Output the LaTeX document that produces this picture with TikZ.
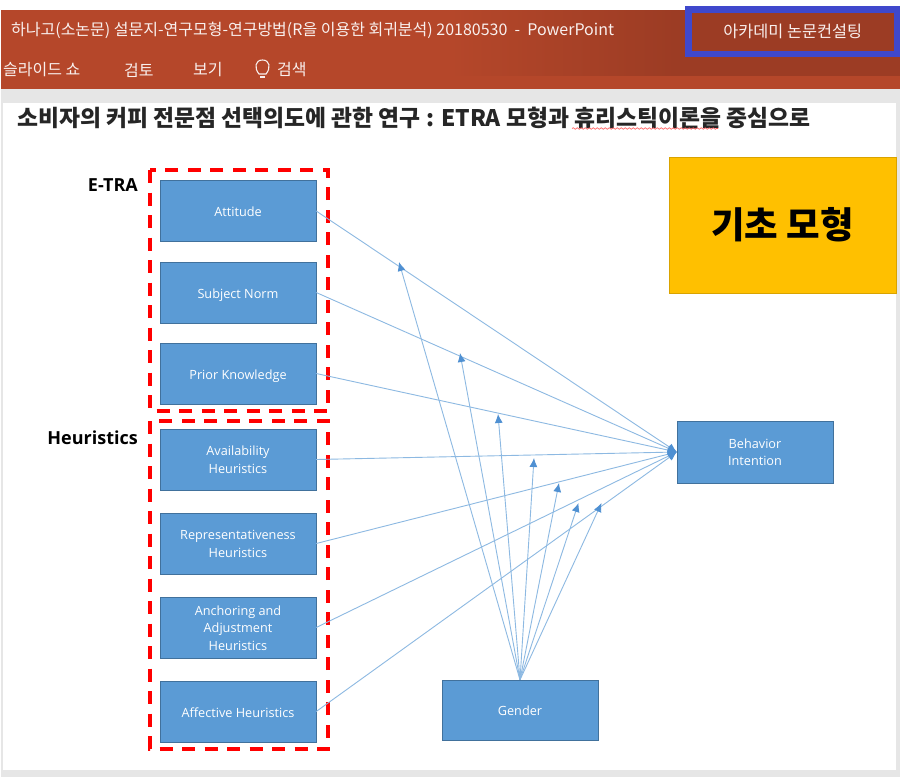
\documentclass[tikz,border=0pt]{standalone}
\usepackage{fontspec}
\usepackage{tikz}
\usetikzlibrary{arrows.meta, decorations.pathmorphing}
\setmainfont{Open Sans}
\newfontfamily\krfont{Noto Sans CJK KR}
\newcommand{\boxstrut}{\rule[-3.25pt]{0pt}{17.5pt}}
\newcommand{\toprow}{\rule{0pt}{13.7pt}}
\definecolor{banner}{HTML}{B5472A}
\definecolor{bannerdark}{HTML}{9C3C24}
\definecolor{boxblue}{HTML}{5B9BD5}
\definecolor{boxedge}{HTML}{41719C}
\definecolor{linkblue}{HTML}{8DB9E2}
\definecolor{tipblue}{HTML}{4F90D2}
\definecolor{slidegrey}{HTML}{E6E6E6}
\definecolor{markblue}{HTML}{3F48CC}
\definecolor{basicgold}{HTML}{FFC000}
\tikzset{
  factor/.style={draw=boxedge, fill=boxblue, text=white, minimum width=156pt, minimum height=61pt,
    inner sep=0pt, align=center, font=\fontsize{12.7}{17.5}\selectfont,
    execute at begin node=\boxstrut, execute at end node=\boxstrut},
  group/.style={draw=red, line width=3.5pt, dash pattern=on 13pt off 9.5pt},
  grouplabel/.style={font=\fontsize{18}{20}\selectfont\bfseries, anchor=east, inner sep=0pt},
  bartext/.style={text=white!92!banner, anchor=west, inner sep=0pt, font=\krfont\fontsize{16}{18}\selectfont},
  link/.style={draw=linkblue, line width=0.9pt, -{Latex[length=9pt,width=8pt,color=tipblue]}}
}
\begin{document}
\begin{tikzpicture}[x=1pt, y=-1pt]
  \useasboundingbox (0, 0) rectangle (900, 777);
  % Window
  \fill[white] (0, 0) rectangle (900, 777);
  \fill[slidegrey] (1, 89) rectangle (900, 777);
  \fill[banner] (1, 10) rectangle (900, 89);
  \shade[left color=banner, right color=bannerdark, middle color=bannerdark] (450, 10) rectangle (900, 75);
  \fill[white] (3, 103) rectangle (896, 770);
  \node[bartext] (docname) at (11, 30) {하나고(소논문) 설문지-연구모형-연구방법(R을 이용한 회귀분석) 20180530 \ -\ \ PowerPoint};
  \node[draw=markblue, line width=6.5pt, fill=bannerdark, text=white!92!banner, minimum width=208.5pt,
    minimum height=44.5pt, inner sep=0pt, font=\krfont\fontsize{16.3}{18}\selectfont] (account) at (792.75, 31.75) {\raisebox{1pt}{아카데미 논문컨설팅}};
  % - Ribbon
  \node[bartext] (slideshow) at (3, 70) {슬라이드 쇼};
  \node[bartext] (review) at (124, 70) {검토};
  \node[bartext] (viewtab) at (193, 70) {보기};
  \draw[white!92!banner, line width=1.1pt] (259, 74) .. controls (254, 68) and (255, 60) .. (262.5, 60)
    .. controls (270, 60) and (271, 68) .. (266, 74) -- cycle;
  \draw[white!92!banner, line width=1.1pt] (260, 77) -- (265, 77);
  \node[bartext] (search) at (277, 70) {검색};
  % Title
  \node[anchor=west, inner sep=0pt, text=black!85, font=\krfont\fontsize{22.8}{24}\selectfont\bfseries] (title) at (17, 118)
    {소비자의 커피 전문점 선택의도에 관한 연구 : ETRA 모형과 휴리스틱이론을 중심으로};
  \draw[red!70!white, line width=0.6pt, decorate, decoration={snake, amplitude=0.8pt, segment length=4pt}] (572, 128.5) -- (718, 128.5);
  % E-TRA
  \node[factor] (attitude) at (238, 211) {Attitude};
  \node[factor] (norm) at (238, 292.5) {Subject Norm};
  \node[factor] (prior) at (238, 373.5) {Prior Knowledge};
  \draw[group] (150, 170) rectangle (328, 411);
  \node[grouplabel] (etra) at (138, 185) {E-TRA};
  % Heuristics
  \node[factor] (avail) at (238, 459.5) {\toprow Availability\\Heuristics};
  \node[factor] (repres) at (238, 543.5) {\toprow Representativeness\\Heuristics};
  \node[factor] (anchor) at (238, 627.5) {\toprow Anchoring and\\Adjustment\\Heuristics};
  \node[factor] (affect) at (238, 711.5) {Affective Heuristics};
  \draw[group] (150, 421) rectangle (328, 749);
  \node[grouplabel] (heur) at (138, 438) {Heuristics};
  % Outcome and moderator
  \node[factor, minimum height=62pt] (behavior) at (755, 452) {\toprow Behavior\\Intention};
  \node[factor, minimum height=60pt] (gender) at (520, 710) {Gender};
  \node[draw=basicgold!85!black, fill=basicgold, minimum width=227pt, minimum height=136pt, text=black,
    font=\krfont\fontsize{36.5}{38}\selectfont\bfseries] (basic) at (782.5, 225) {\raisebox{5pt}{기초 모형}};
  % Paths
  \foreach \from in {attitude, norm, prior, avail, repres, anchor, affect}
    \draw[link] (\from.east) -- (behavior.west);
  % Gender arrows end on the paths
  \coordinate (tipa) at (399, 262);
  \coordinate (tipb) at (460, 353);
  \coordinate (tipc) at (498, 414);
  \coordinate (tipd) at (534, 458);
  \coordinate (tipe) at (559, 483);
  \coordinate (tipf) at (578.5, 503);
  \coordinate (tipg) at (601.5, 503);
  \foreach \tip in {tipa, tipb, tipc, tipd, tipe, tipf, tipg}
    \draw[link] (gender.north) -- (\tip);
\end{tikzpicture}
\end{document}
